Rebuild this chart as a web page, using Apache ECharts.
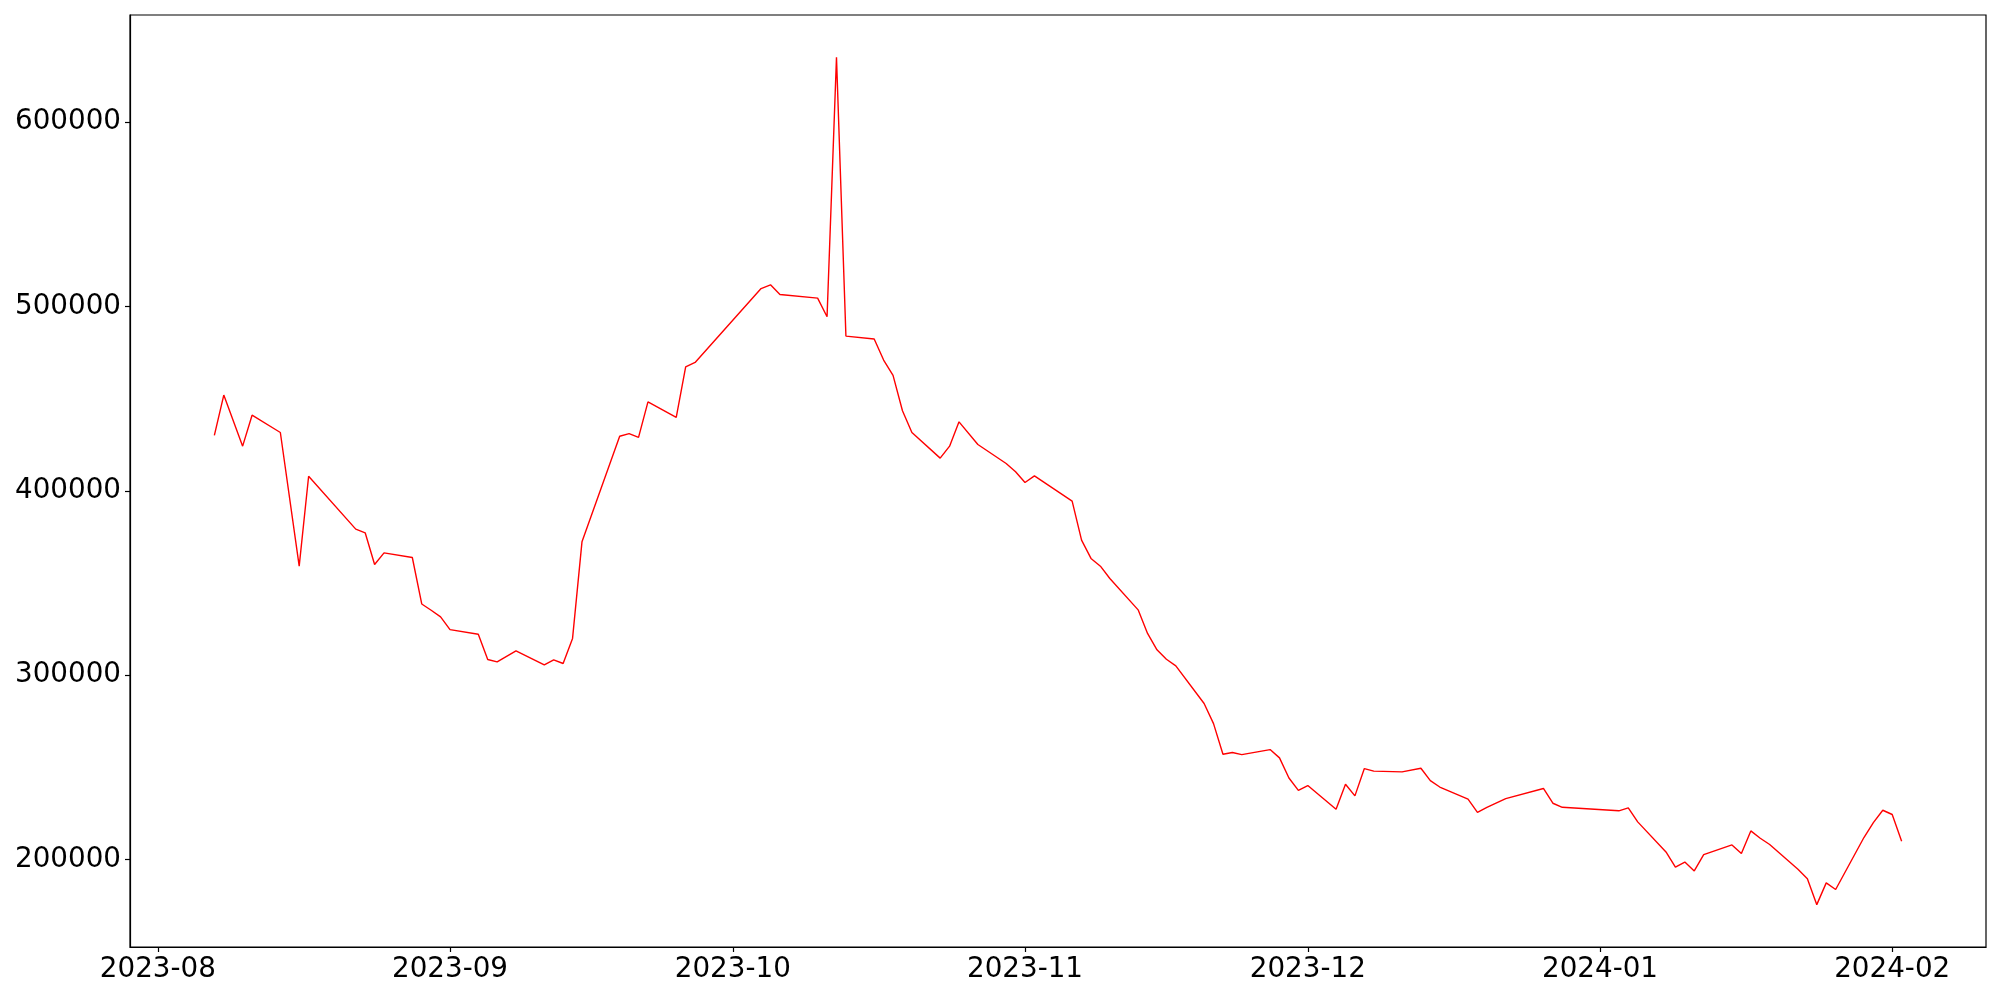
<!DOCTYPE html>
<html>
<head>
<meta charset="utf-8">
<script src="https://cdn.jsdelivr.net/npm/echarts@6/dist/echarts.min.js"></script>
<style>
html,body{margin:0;padding:0;background:#fff;}
#chart{width:2000px;height:1000px;}
</style>
</head>
<body>
<div id="chart"></div>
<script>
const dates = [
 '2023-08-07','2023-08-08','2023-08-10','2023-08-11','2023-08-14','2023-08-16','2023-08-17',
 '2023-08-22','2023-08-23','2023-08-24','2023-08-25','2023-08-28','2023-08-29','2023-08-30',
 '2023-08-31','2023-09-01','2023-09-04','2023-09-05','2023-09-06','2023-09-08','2023-09-11',
 '2023-09-12','2023-09-13','2023-09-14','2023-09-15','2023-09-19','2023-09-20','2023-09-21',
 '2023-09-22','2023-09-25','2023-09-26','2023-09-27','2023-10-04','2023-10-05','2023-10-06',
 '2023-10-10','2023-10-11','2023-10-12','2023-10-13','2023-10-16','2023-10-17','2023-10-18',
 '2023-10-19','2023-10-20','2023-10-23','2023-10-24','2023-10-25','2023-10-27','2023-10-30',
 '2023-10-31','2023-11-01','2023-11-02','2023-11-06','2023-11-07','2023-11-08','2023-11-09',
 '2023-11-10','2023-11-13','2023-11-14','2023-11-15','2023-11-16','2023-11-17','2023-11-20',
 '2023-11-21','2023-11-22','2023-11-23','2023-11-24','2023-11-27','2023-11-28','2023-11-29',
 '2023-11-30','2023-12-01','2023-12-04','2023-12-05','2023-12-06','2023-12-07','2023-12-08',
 '2023-12-11','2023-12-13','2023-12-14','2023-12-15','2023-12-18','2023-12-19','2023-12-20',
 '2023-12-22','2023-12-26','2023-12-27','2023-12-28','2024-01-03','2024-01-04','2024-01-05',
 '2024-01-08','2024-01-09','2024-01-10','2024-01-11','2024-01-12','2024-01-15','2024-01-16',
 '2024-01-17','2024-01-18','2024-01-19','2024-01-22','2024-01-23','2024-01-24','2024-01-25',
 '2024-01-26','2024-01-29','2024-01-30','2024-01-31','2024-02-01','2024-02-02'
];
const values = [
 430000,451900,424200,441000,431600,359100,407900,
 379200,377200,360000,366300,363800,338600,335200,
 331600,324700,322200,308500,307200,313200,305500,
 308300,306300,319900,372300,429600,431000,429000,
 448200,439800,467200,469600,509700,511700,506500,
 504500,494400,635100,483900,482300,470900,462600,
 443400,431600,417700,424200,437400,425100,414800,
 410300,404500,408100,394400,373200,363300,359100,
 352400,335400,322600,313700,308600,305000,284600,
 273700,257100,258000,256900,259600,255100,244200,
 237500,240100,227200,240800,234500,249300,247900,
 247500,249500,242800,239300,232700,225500,228200,
 233000,238500,230500,228300,226400,228000,220400,
 204100,195900,198600,193800,202600,207900,203200,
 215500,211500,208100,194700,189600,175500,187300,
 183700,211900,220000,226700,224400,209900
];
const xTickLabels = ['2023-08','2023-09','2023-10','2023-11','2023-12','2024-01','2024-02'];
const yTickValues = [200000,300000,400000,500000,600000];

function parseDay(s){ const p = s.split('-').map(Number); return Date.UTC(p[0], p[1]-1, p[2] || 1); }
const xTickValues = xTickLabels.map(parseDay);
const xFirst = parseDay(dates[0]), xLast = parseDay(dates[dates.length-1]);
const xPad = (xLast - xFirst) * 0.05;
const yMinV = Math.min(...values), yMaxV = Math.max(...values);
const yPad = (yMaxV - yMinV) * 0.05;

const font = 'DejaVu Sans';
const fs = 27.78;

function fmtMonth(v){
  const d = new Date(v);
  const m = d.getUTCMonth()+1;
  return d.getUTCFullYear() + '-' + (m<10?'0':'') + m;
}

const chart = echarts.init(document.getElementById('chart'), null, {renderer:'canvas'});
chart.setOption({
  animation: false,
  backgroundColor: '#ffffff',
  grid: {left:130, right:14, top:15, bottom:53, show:true, borderColor:'#000', borderWidth:1.2, backgroundColor:'transparent'},
  xAxis: {
    type: 'value',
    min: xFirst - xPad,
    max: xLast + xPad,
    axisLine: {show:true, onZero:false, lineStyle:{color:'#000', width:1.2}},
    axisTick: {show:true, length:5, lineStyle:{color:'#000', width:1.2}, customValues: xTickValues},
    axisLabel: {
      customValues: xTickValues,
      margin: 9,
      color: '#000',
      fontFamily: font,
      fontSize: fs,
      formatter: fmtMonth
    },
    splitLine: {show:false}
  },
  yAxis: {
    type: 'value',
    min: yMinV - yPad,
    max: yMaxV + yPad,
    axisLine: {show:true, onZero:false, lineStyle:{color:'#000', width:1.2}},
    axisTick: {show:true, length:5, lineStyle:{color:'#000', width:1.2}, customValues: yTickValues},
    axisLabel: {
      customValues: yTickValues,
      margin: 9,
      color: '#000',
      fontFamily: font,
      fontSize: fs,
      formatter: function(v){ return String(v); }
    },
    splitLine: {show:false}
  },
  series: [{
    type: 'line',
    data: dates.map((d,i)=>[parseDay(d), values[i]]),
    showSymbol: false,
    symbol: 'none',
    lineStyle: {color:'#ff0000', width:1.4},
    itemStyle: {color:'#ff0000'}
  }]
});
</script>
</body>
</html>
